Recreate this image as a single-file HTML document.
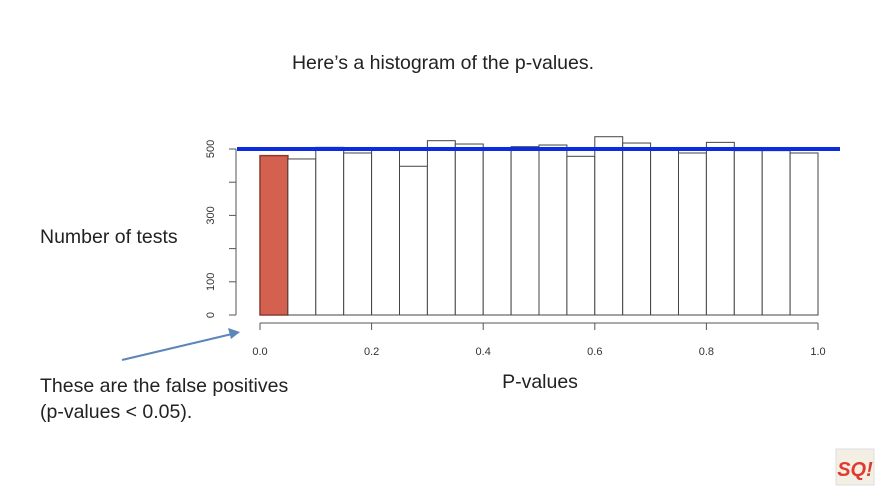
<!DOCTYPE html>
<html><head><meta charset="utf-8"><style>
body{margin:0;background:#fff;}
svg{display:block;font-family:"Liberation Sans",sans-serif;}
</style></head><body>
<svg width="882" height="494">
<text x="443" y="69" text-anchor="middle" font-size="19.5" fill="#222">Here’s a histogram of the p-values.</text>
<text x="40" y="243" font-size="19.5" fill="#222">Number of tests</text>
<text x="540" y="388" text-anchor="middle" font-size="19.5" fill="#222">P-values</text>
<text x="40" y="392" font-size="19.5" fill="#222">These are the false positives</text>
<text x="40" y="418" font-size="19.5" fill="#222">(p-values &lt; 0.05).</text>
<g>
<line x1="122" y1="360" x2="232" y2="334" stroke="#5b86b8" stroke-width="2"/>
<polygon points="240,332 228,328 231,339" fill="#5b86b8"/>
</g>
<g id="bars"></g><g id="axes"></g>
<g>
<rect x="836" y="449" width="38" height="36" fill="#f3efe4" stroke="#ddd"/>
<text x="855" y="476" text-anchor="middle" font-size="20" font-weight="bold" fill="#e03a2e" font-style="italic">SQ!</text>
</g>
</svg>
<script>
const binStarts=[0,0.05,0.1,0.15,0.2,0.25,0.3,0.35,0.4,0.45,0.5,0.55,0.6,0.65,0.7,0.75,0.8,0.85,0.9,0.95];
const counts=[480,470,505,488,503,448,525,515,498,507,512,478,537,518,497,488,520,495,495,488];
const yTicks=[0,100,200,300,400,500];
const yLabels=["0","100","","300","","500"];
const xTicks=[0,0.2,0.4,0.6,0.8,1.0];
const xLabels=["0.0","0.2","0.4","0.6","0.8","1.0"];
const expected=500;
const NS="http://www.w3.org/2000/svg";
const sx=v=>260+v*558, sy=v=>315-v*0.332;
function mk(t,a,p){const e=document.createElementNS(NS,t);for(const k in a)e.setAttribute(k,a[k]);p.appendChild(e);return e;}
const bars=document.getElementById('bars'),axes=document.getElementById('axes');
counts.forEach((c,i)=>{
 const r=mk('rect',{x:sx(binStarts[i]),y:sy(c),width:sx(binStarts[i]+0.05)-sx(binStarts[i]),height:sy(0)-sy(c),fill:i==0?'#d46050':'#fff',stroke:i==0?'#8a3a30':'#444','stroke-width':i==0?1.5:1},bars);
 
 
});
const el=mk('line',{x1:237,x2:840,y1:sy(expected),y2:sy(expected),stroke:'#0a2de0','stroke-width':4},axes);


mk('line',{x1:236,x2:236,y1:sy(0),y2:sy(500),stroke:'#555'},axes);
yTicks.forEach((v,i)=>{
 mk('line',{x1:229,x2:236,y1:sy(v),y2:sy(v),stroke:'#555'},axes);
 if(yLabels[i]){const t=mk('text',{x:0,y:0,transform:`translate(214,${sy(v)}) rotate(-90)`,'text-anchor':'middle','font-size':11,fill:'#333'},axes);t.textContent=yLabels[i];
 
 }
});
mk('line',{x1:sx(0),x2:sx(1),y1:323,y2:323,stroke:'#555'},axes);
xTicks.forEach((v,i)=>{
 mk('line',{x1:sx(v),x2:sx(v),y1:323,y2:330,stroke:'#555'},axes);
 const t=mk('text',{x:sx(v),y:355,'text-anchor':'middle','font-size':11,fill:'#333'},axes);t.textContent=xLabels[i];
 
 
});
</script>
</body></html>
